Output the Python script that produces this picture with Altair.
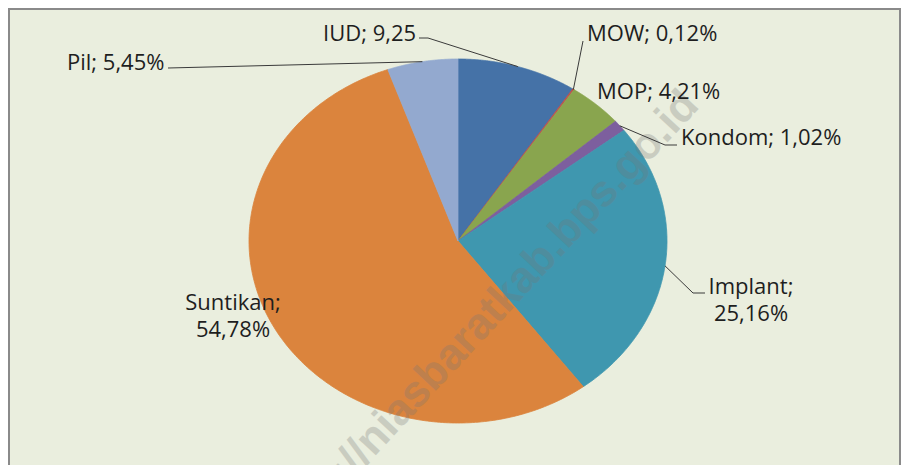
import math
import altair as alt
import pandas as pd

# ---------------- data ----------------
categories = ["IUD", "MOW", "MOP", "Kondom", "Implant", "Suntikan", "Pil"]
values = [9.25, 0.12, 4.21, 1.02, 25.16, 54.78, 5.45]
label_texts = ["IUD; 9,25", "MOW; 0,12%", "MOP; 4,21%", "Kondom; 1,02%",
               "Implant;\n25,16%", "Suntikan;\n54,78%", "Pil; 5,45%"]
colors = ["#4572A7", "#C0504D", "#89A54E", "#7D5F9E", "#3F97AF", "#DB843D", "#93A9CF"]
watermark = "http://niasbaratkab.bps.go.id"

# ---------------- layout (page pixels) ----------------
W, H = 893, 457
CX, CY, RX, RY = 458, 241, 209, 182
label_pos = [(323, 34, "left"), (587, 34, "left"), (597, 92, "left"),
             (681, 138, "left"), (751, 287, "center"), (233, 303, "center"),
             (67, 63, "left")]
leader_start = {"IUD": [(419, 38), (428, 38)], "MOW": [(583, 41)],
                "Kondom": [(677, 145), (665, 145)],
                "Implant": [(705, 293), (693, 293)], "Pil": [(168, 68)]}
wm_pos = (486, 318)


def ux(px):
    return (px - CX) / RX


def uy(py):
    return (CY - py) / RY


xs = alt.Scale(domain=[ux(8), ux(8 + W)], nice=False, zero=False)
ys = alt.Scale(domain=[uy(8 + H), uy(8)], nice=False, zero=False)
cscale = alt.Scale(domain=categories, range=colors)

# ---------------- wedges (elliptical pie) ----------------
N = 240
slices = pd.DataFrame({"category": categories, "value": values, "k": list(range(len(values)))})
wedges = (
    alt.Chart(slices)
    .transform_window(cum="sum(value)", sort=[alt.SortField("k")], frame=[None, 0])
    .transform_joinaggregate(total="sum(value)")
    .transform_calculate(
        a1="2*PI*datum.cum/datum.total",
        a0="2*PI*(datum.cum-datum.value)/datum.total",
        idx=f"sequence(0, {N + 3})",
    )
    .transform_flatten(["idx"])
    .transform_calculate(
        ang=f"datum.a0 + (datum.a1-datum.a0)*clamp((datum.idx-1)/{N}, 0, 1)",
        edge=f"datum.idx > 0 && datum.idx < {N + 2}",
    )
    .transform_calculate(
        ux="datum.edge ? sin(datum.ang) : 0",
        uy="datum.edge ? cos(datum.ang) : 0",
    )
    .mark_line(strokeWidth=0.8, strokeJoin="round")
    .encode(
        x=alt.X("ux:Q", scale=xs, axis=None),
        y=alt.Y("uy:Q", scale=ys, axis=None),
        order=alt.Order("idx:Q"),
        detail="category:N",
        fill=alt.Fill("category:N", scale=cscale, legend=None),
        stroke=alt.Stroke("category:N", scale=cscale, legend=None),
    )
)

# ---------------- leader lines ----------------
total = sum(values)
rows = []
cum = 0.0
for cat, v in zip(categories, values):
    mid = (cum + v / 2) / total * 2 * math.pi
    cum += v
    if cat in leader_start:
        pts = leader_start[cat]
        for i, (px, py) in enumerate(pts):
            rows.append({"cat": cat, "seq": i, "ux": ux(px), "uy": uy(py)})
        rows.append({"cat": cat, "seq": len(pts), "ux": math.sin(mid), "uy": math.cos(mid)})
leaders = (
    alt.Chart(pd.DataFrame(rows))
    .mark_line(color="#3a3a3a", strokeWidth=1)
    .encode(
        x=alt.X("ux:Q", scale=xs, axis=None),
        y=alt.Y("uy:Q", scale=ys, axis=None),
        order=alt.Order("seq:Q"),
        detail="cat:N",
    )
)

# ---------------- labels ----------------
lab = pd.DataFrame({
    "text": label_texts,
    "ux": [ux(p[0]) for p in label_pos],
    "uy": [uy(p[1]) for p in label_pos],
    "align": [p[2] for p in label_pos],
})
lab_base = alt.Chart(lab).encode(
    x=alt.X("ux:Q", scale=xs, axis=None),
    y=alt.Y("uy:Q", scale=ys, axis=None),
    text="text:N",
)
labels_left = lab_base.transform_filter("datum.align == 'left'").mark_text(
    align="left", baseline="middle", font="Open Sans", fontSize=22,
    color="#1e1e1e", lineBreak="\n", lineHeight=27)
labels_center = lab_base.transform_filter("datum.align == 'center'").mark_text(
    align="center", baseline="middle", font="Open Sans", fontSize=22,
    color="#1e1e1e", lineBreak="\n", lineHeight=27)

# ---------------- watermark ----------------
wm = (
    alt.Chart(pd.DataFrame({"t": [watermark], "ux": [ux(wm_pos[0])], "uy": [uy(wm_pos[1])]}))
    .mark_text(align="center", baseline="middle", angle=313, font="Liberation Sans",
               fontWeight="bold", fontSize=44, color="#767676", opacity=0.28)
    .encode(x=alt.X("ux:Q", scale=xs, axis=None), y=alt.Y("uy:Q", scale=ys, axis=None), text="t:N")
)

# ---------------- frame ----------------
frame_l = alt.Chart(pd.DataFrame({"a": [0]})).mark_rule(color="#8a8a8a", strokeWidth=2).encode(
    x=alt.value(1), y=alt.value(0), y2=alt.value(H))
frame_t = alt.Chart(pd.DataFrame({"a": [0]})).mark_rule(color="#8a8a8a", strokeWidth=2).encode(
    x=alt.value(0), x2=alt.value(W - 1), y=alt.value(1))
frame_r = alt.Chart(pd.DataFrame({"a": [0]})).mark_rule(color="#8a8a8a", strokeWidth=2).encode(
    x=alt.value(W - 1), y=alt.value(0), y2=alt.value(H))

chart = (
    alt.layer(wedges, wm, leaders, labels_left, labels_center, frame_l, frame_t, frame_r)
    .properties(width=W, height=H, background="#EAEEDE", padding=0,
                autosize=alt.AutoSizeParams(type="none"))
    .configure_view(strokeWidth=0)
)

chart.save("out.html", embed_options={"renderer": "svg", "actions": False})
